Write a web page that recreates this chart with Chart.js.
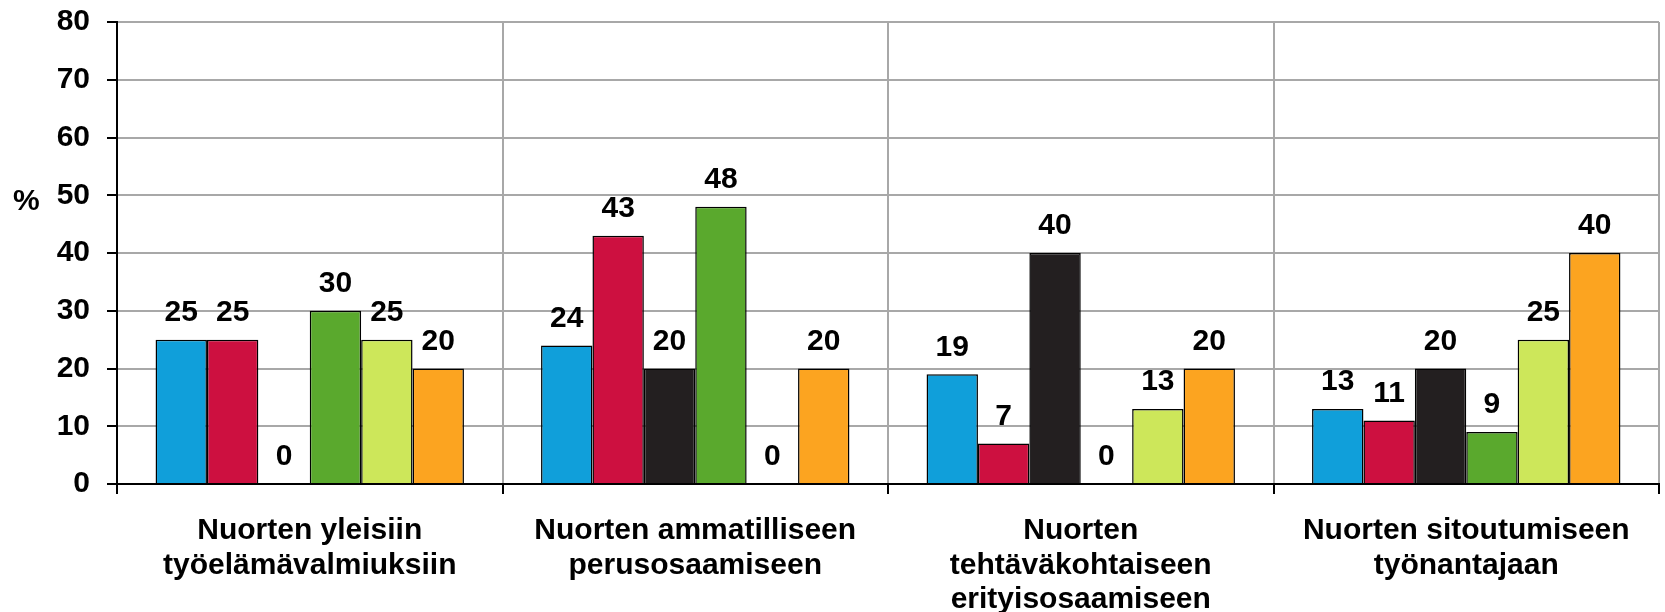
<!DOCTYPE html>
<html>
<head>
<meta charset="utf-8">
<script src="https://cdn.jsdelivr.net/npm/chart.js@4"></script>
<style>
  html, body { margin: 0; padding: 0; background: #fff; }
  #wrap { width: 1665px; height: 612px; }
</style>
</head>
<body>
<div id="wrap"><canvas id="chart"></canvas></div>
<script>
// categories (multi-line labels)
const categories = [
    ['Nuorten yleisiin', 'työelämävalmiuksiin'],
    ['Nuorten ammatilliseen', 'perusosaamiseen'],
    ['Nuorten', 'tehtäväkohtaiseen', 'erityisosaamiseen'],
    ['Nuorten sitoutumiseen', 'työnantajaan']
];

// series values, one array per series (no legend in the original)
const seriesNames = ['Ryhmä 1', 'Ryhmä 2', 'Ryhmä 3', 'Ryhmä 4', 'Ryhmä 5', 'Ryhmä 6'];
const series1 = [25, 24, 19, 13];
const series2 = [25, 43, 7, 11];
const series3 = [0, 20, 40, 20];
const series4 = [30, 48, 0, 9];
const series5 = [25, 0, 13, 25];
const series6 = [20, 20, 20, 40];

const yTicks = [0, 10, 20, 30, 40, 50, 60, 70, 80];

const seriesColors = ['#109fda', '#cd1040', '#231f20', '#5aa92d', '#cde75a', '#fca420'];
const fontFamily = '"Liberation Sans", Arial, sans-serif';
const font = 'bold 30px ' + fontFamily;

// value labels above bars
const valueLabels = {
    id: 'valueLabels',
    afterDatasetsDraw(chart) {
        const ctx = chart.ctx;
        ctx.save();
        ctx.font = font;
        ctx.fillStyle = '#000';
        ctx.textAlign = 'center';
        ctx.textBaseline = 'middle';
        chart.data.datasets.forEach((ds, i) => {
            const meta = chart.getDatasetMeta(i);
            meta.data.forEach((bar, j) => {
                ctx.fillText(String(ds.data[j]), bar.x, bar.y - 27);
            });
        });
        ctx.restore();
    }
};

// horizontal "%" axis title
const percentTitle = {
    id: 'percentTitle',
    afterDraw(chart) {
        const ctx = chart.ctx;
        const y = chart.scales.y.getPixelForValue(50);
        ctx.save();
        ctx.font = font;
        ctx.fillStyle = '#000';
        ctx.textAlign = 'left';
        ctx.textBaseline = 'middle';
        ctx.fillText('%', 13, y + 6);
        ctx.restore();
    }
};

const allSeries = [series1, series2, series3, series4, series5, series6];

new Chart(document.getElementById('chart').getContext('2d'), {
    type: 'bar',
    data: {
        labels: categories,
        datasets: allSeries.map((values, idx) => ({
            label: seriesNames[idx],
            data: values,
            backgroundColor: seriesColors[idx],
            borderColor: '#000',
            borderWidth: 1.5,
            categoryPercentage: 0.8,
            barPercentage: 1.0
        }))
    },
    options: {
        responsive: true,
        maintainAspectRatio: false,
        animation: false,
        layout: { padding: { left: 0, right: 6, top: 22, bottom: 0 } },
        scales: {
            x: {
                grid: {
                    offset: true,
                    color: '#a8a8a8',
                    lineWidth: 2,
                    tickColor: '#000',
                    tickLength: 10,
                    tickWidth: 2
                },
                border: { color: '#000', width: 2 },
                ticks: {
                    color: '#000',
                    font: { family: fontFamily, size: 30, weight: 'bold', lineHeight: 1.14 },
                    padding: 20,
                    maxRotation: 0,
                    autoSkip: false
                },
                afterFit(scale) { scale.height = 128; }
            },
            y: {
                min: 0,
                max: 80,
                afterBuildTicks(scale) { scale.ticks = yTicks.map(v => ({ value: v })); },
                grid: {
                    color: '#a8a8a8',
                    lineWidth: 2,
                    tickColor: '#000',
                    tickLength: 10,
                    tickWidth: 2
                },
                border: { color: '#000', width: 2 },
                ticks: {
                    color: '#000',
                    font: { family: fontFamily, size: 30, weight: 'bold' },
                    padding: 17
                },
                afterFit(scale) {
                    scale.width = 117;
                    scale.paddingTop = 0;
                    scale.paddingBottom = 0;
                }
            }
        },
        plugins: {
            legend: { display: false },
            tooltip: { enabled: false }
        }
    },
    plugins: [valueLabels, percentTitle]
});
</script>
</body>
</html>
